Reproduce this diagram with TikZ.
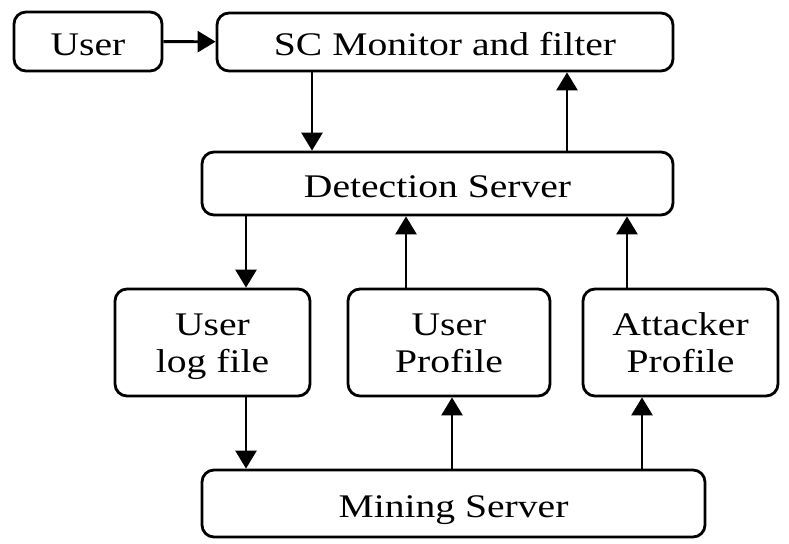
\documentclass[tikz,border=0pt]{standalone}
\usepackage{fontspec}
\setmainfont[FakeStretch=1.2]{Liberation Serif}
\usetikzlibrary{arrows.meta}
\usetikzlibrary{calc}

\tikzset{
  blockbox/.style={draw, line width=2.8pt, rounded corners=12pt, inner sep=0pt, align=center,
    font=\fontsize{33}{37}\selectfont, text height=28pt, text depth=0pt},
  twoline/.style={text height=59pt, text depth=0pt},
  flow/.style={line width=2.8pt, -{Triangle[length=18pt, width=21pt]}}
}

\begin{document}
\begin{tikzpicture}[x=1pt, y=-1pt]
      \useasboundingbox (0,0) rectangle (789,543);

      \node[blockbox, minimum width=148pt, minimum height=59pt] (user) at (88,41.5) {User};
      \node[blockbox, minimum width=456pt, minimum height=58pt] (monitor) at (445,42) {SC Monitor and filter};
      \node[blockbox, minimum width=471pt, minimum height=63pt] (detect) at (437.5,183.5) {Detection Server};
      \node[blockbox, twoline, minimum width=195pt, minimum height=107pt] (logfile) at (212.5,342.5) {User\\log file};
      \node[blockbox, twoline, minimum width=202pt, minimum height=107pt] (uprofile) at (449,342.5) {User\\Profile};
      \node[blockbox, twoline, minimum width=195pt, minimum height=107pt] (aprofile) at (680.5,342.5) {Attacker\\Profile};
      \node[blockbox, minimum width=503pt, minimum height=67pt] (mining) at (453.5,503.5) {Mining Server};

      \draw[flow] (user) -- (monitor);
      \draw[flow] (monitor.south -| 312,0) -- (detect.north -| 312,0);
      \draw[flow] (detect.north -| 567,0) -- (monitor.south -| 567,0);
      \draw[flow] (detect.south -| 246,0) -- (logfile.north -| 246,0);
      \draw[flow] (uprofile.north -| 406,0) -- (detect.south -| 406,0);
      \draw[flow] (aprofile.north -| 627,0) -- (detect.south -| 627,0);
      \draw[flow] (logfile.south -| 246,0) -- (mining.north -| 246,0);
      \draw[flow] (mining.north -| 452,0) -- (uprofile.south -| 452,0);
      \draw[flow] (mining.north -| 642,0) -- (aprofile.south -| 642,0);
    \end{tikzpicture}
\end{document}
